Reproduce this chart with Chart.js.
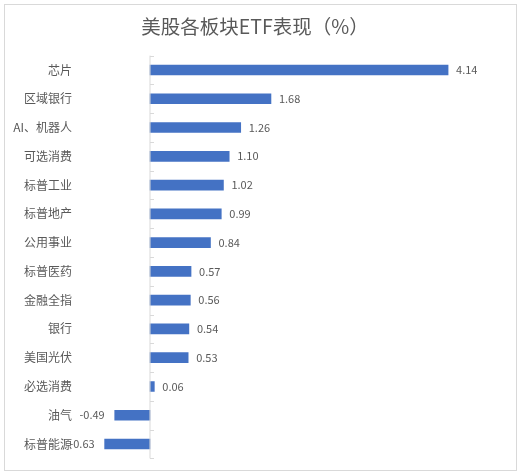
<!DOCTYPE html>
<html>
<head>
<meta charset="utf-8">
<script src="https://cdn.jsdelivr.net/npm/chart.js@4/dist/chart.umd.min.js"></script>
<style>
  html, body { margin: 0; padding: 0; background: #fff; }
  #box { position: relative; width: 527px; height: 476px; }
  #frame { position: absolute; left: 4px; top: 4px; width: 513px; height: 467px; border: 1px solid #d9d9d9; box-sizing: border-box; pointer-events: none; }
</style>
</head>
<body>
<div id="box">
  <canvas id="barChart" width="527" height="476"></canvas>
  <div id="frame"></div>
</div>
<script>
// 数据
const categorias = ['芯片', '区域银行', 'AI、机器人', '可选消费', '标普工业', '标普地产', '公用事业', '标普医药', '金融全指', '银行', '美国光伏', '必选消费', '油气', '标普能源'];
const valores = [4.14, 1.68, 1.26, 1.10, 1.02, 0.99, 0.84, 0.57, 0.56, 0.54, 0.53, 0.06, -0.49, -0.63];
const titulo = '美股各板块ETF表现（%）';

const corTexto = '#595959';
const fonte = '"Noto Sans CJK SC", "Noto Sans", sans-serif';

// linha do zero + marcas de categoria
const eixoZero = {
    id: 'eixoZero',
    afterDatasetsDraw(chart) {
        const c = chart.ctx;
        const x0 = chart.scales.x.getPixelForValue(0);
        const area = chart.chartArea;
        const n = categorias.length;
        const passo = (area.bottom - area.top) / n;
        c.save();
        c.strokeStyle = '#d9d9d9';
        c.lineWidth = 1;
        c.beginPath();
        c.moveTo(x0, area.top);
        c.lineTo(x0, area.bottom);
        for (let i = 0; i <= n; i++) {
            const y = Math.round(area.top + i * passo) + 0.5;
            c.moveTo(x0, y);
            c.lineTo(x0 + 4, y);
        }
        c.stroke();
        c.restore();
    }
};

// rótulos dos valores
const rotulos = {
    id: 'rotulos',
    afterDatasetsDraw(chart) {
        const c = chart.ctx;
        const meta = chart.getDatasetMeta(0);
        c.save();
        c.font = '11px ' + fonte;
        c.fillStyle = corTexto;
        c.textBaseline = 'middle';
        meta.data.forEach(function (bar, i) {
            const v = valores[i];
            if (v >= 0) {
                c.textAlign = 'left';
                c.fillText(v.toFixed(2), bar.x + 8, bar.y);
            } else {
                c.textAlign = 'right';
                c.fillText(v.toFixed(2), bar.x - 10, bar.y);
            }
        });
        c.restore();
    }
};

const ctx = document.getElementById('barChart').getContext('2d');

const barChart = new Chart(ctx, {
    type: 'bar',
    data: {
        labels: categorias,
        datasets: [{
            data: valores,
            backgroundColor: '#4472c4',
            borderWidth: 0,
            barThickness: 10
        }]
    },
    options: {
        indexAxis: 'y',
        responsive: false,
        animation: false,
        layout: {
            padding: { top: 10, right: 17, bottom: 17.6, left: 0 }
        },
        plugins: {
            legend: { display: false },
            tooltip: { enabled: false },
            title: {
                display: true,
                text: titulo,
                color: corTexto,
                font: { family: fonte, size: 19.5, weight: 'normal', lineHeight: 1.2 },
                padding: { top: 5, bottom: 17.2 }
            }
        },
        scales: {
            x: {
                display: false,
                min: -1,
                max: 5
            },
            y: {
                grid: { display: false, drawTicks: false },
                border: { display: false },
                ticks: {
                    color: corTexto,
                    font: { family: fonte, size: 12 },
                    padding: 6
                },
                afterFit: function (scale) {
                    scale.width = 78;
                }
            }
        }
    },
    plugins: [eixoZero, rotulos]
});
</script>
</body>
</html>
